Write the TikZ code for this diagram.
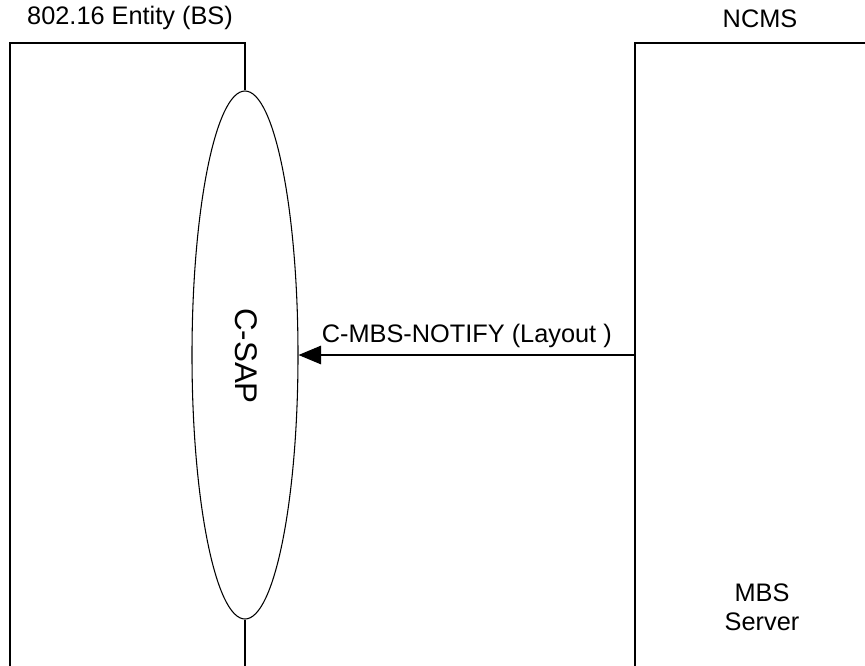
\documentclass[tikz,border=0pt]{standalone}
\usepackage{fontspec}
\setmainfont{Liberation Sans}
\usepackage{tikz}
\usetikzlibrary{arrows.meta,shapes.geometric}

\begin{document}
\begin{tikzpicture}[x=0.75pt,y=-0.75pt,line width=0.8pt,
  lbl/.style={font=\fontsize{19}{22}\selectfont}]
\useasboundingbox (0,0) rectangle (865,665);

% Define corners of the two entities (open at the bottom)
\coordinate (bsBL) at (10,666);
\coordinate (bsTL) at (10,43);
\coordinate (bsTR) at (245,43);
\coordinate (bsBR) at (245,666);
\coordinate (nmBL) at (635,666);
\coordinate (nmTL) at (635,43);
\coordinate (nmTR) at (866,43);

% Service access point
\node[draw,ellipse,fill=white,minimum width=79.5pt,minimum height=396pt,inner sep=0pt] (csap) at (245,355) {};
\node[rotate=-90,font=\fontsize{23.5}{26}\selectfont] (csaplbl) at (246,356) {C-SAP};

% Draw entity outlines
\draw (bsBL) -- (bsTL) -- (bsTR) -- (csap.north);
\draw (csap.south) -- (bsBR);
\draw (nmBL) -- (nmTL) -- (nmTR);

% Label entities
\node[lbl] (bs) at (130,18) {802.16 Entity (BS)};
\node[lbl] (ncms) at (760,19) {NCMS};
\node[lbl,align=center] (mbs) at (762,607) {MBS\\Server};

% Primitive
\coordinate (msgsrc) at (635,355);
\draw[-{Triangle[length=17,width=14]}] (msgsrc) -- (csap.east)
  node[lbl,midway,above=2pt] (msg) {C-MBS-NOTIFY (Layout )};
\end{tikzpicture}
\end{document}
